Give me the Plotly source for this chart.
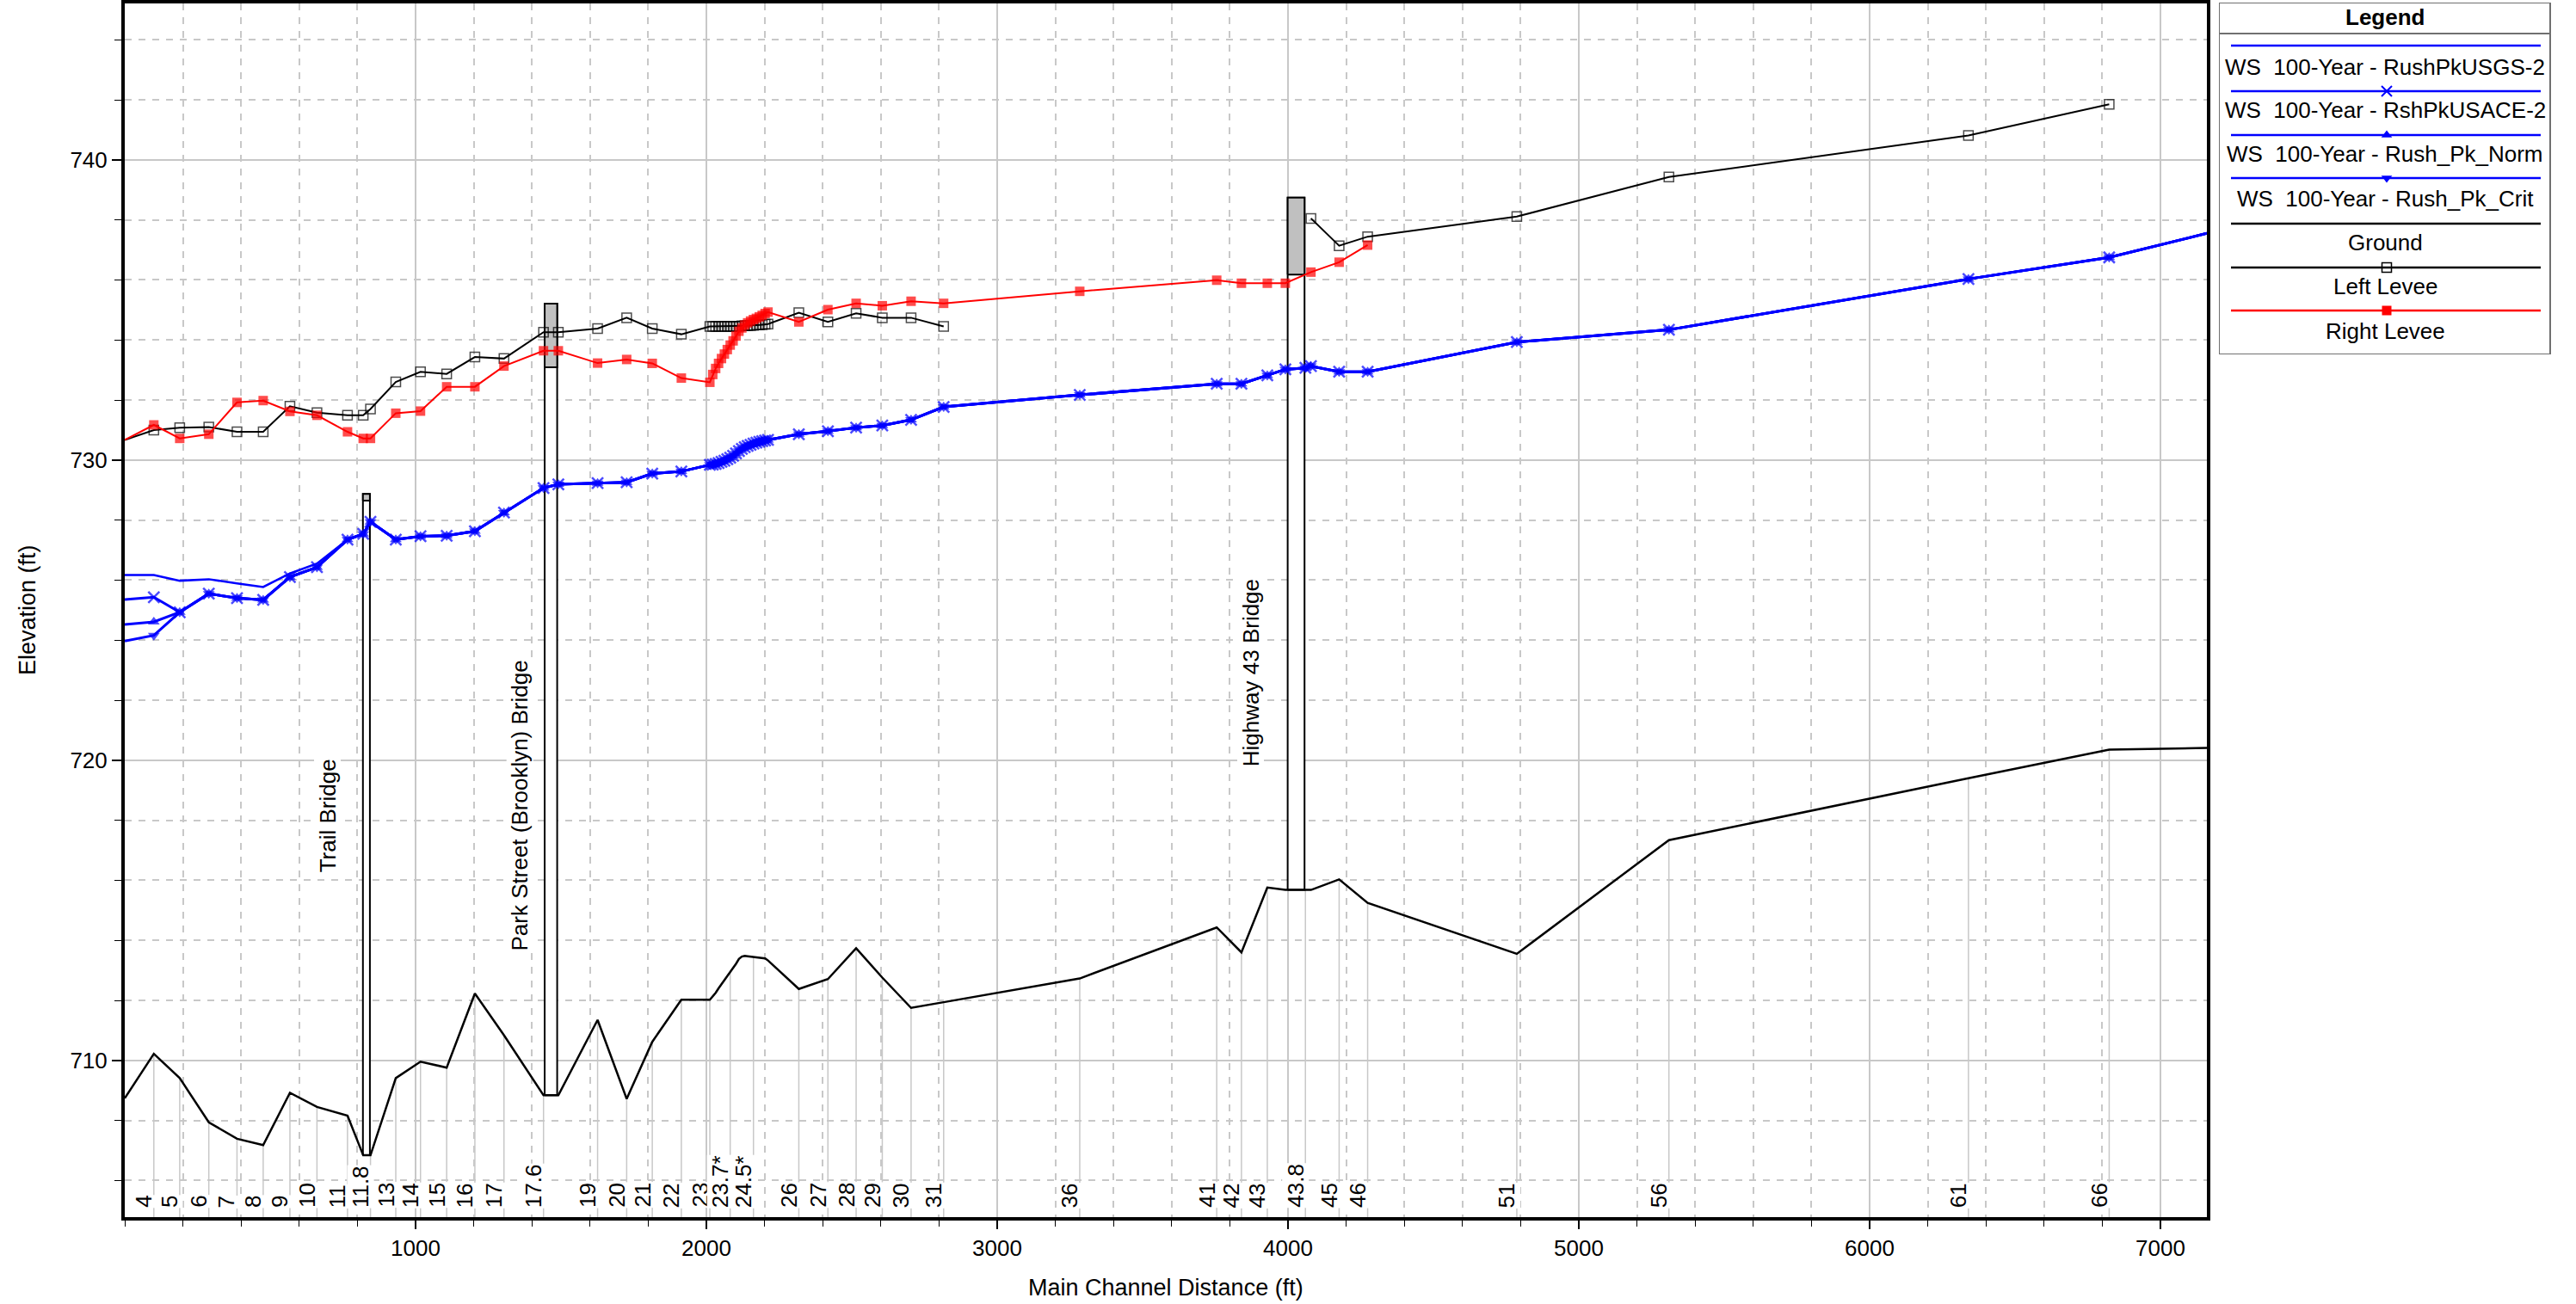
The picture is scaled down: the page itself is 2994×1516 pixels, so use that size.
import plotly.graph_objects as go

W, H = 2994, 1516
FONT = "Liberation Sans, Arial, Helvetica, sans-serif"

# ---------------- river stations (main channel distance, ft) ----------------
stations = [0, 100, 189, 289, 386, 476, 568, 661, 766, 820, 845, 932, 1017, 1107, 1204, 1304,
            1440, 1491, 1626, 1726, 1814, 1914, 2012,
            2022, 2032, 2042, 2052, 2062, 2072, 2082, 2092, 2102, 2112, 2122, 2132, 2142, 2152,
            2162, 2172, 2182, 2192, 2202,
            2212, 2318, 2418, 2515, 2605, 2704, 2816, 3284, 3755, 3840, 3929, 3991, 4060, 4079,
            4176, 4274, 4787, 5310, 6340, 6824, 7160]

# ---------------- elevations (ft) ----------------
ground = [708.74, 710.22, 709.41, 707.94, 707.39, 707.18, 708.92, 708.45, 708.16, 706.84, 706.84,
          709.41, 709.96, 709.76, 712.23, 710.84, 708.84, 708.84, 711.35, 708.72, 710.62, 712.02,
          712.02,
          712.12, 712.25, 712.40, 712.53, 712.66, 712.80, 712.94, 713.08, 713.22, 713.38, 713.46,
          713.48, 713.47, 713.46, 713.45, 713.44, 713.43, 713.42, 713.40,
          713.33, 712.38, 712.71, 713.74, 712.76, 711.75, 711.94, 712.73, 714.43, 713.60, 715.76,
          715.68, 715.68, 715.68, 716.03, 715.25, 713.55, 717.34, 719.40, 720.35, 720.41]

left_levee = [730.67, 731.00, 731.08, 731.10, 730.94, 730.94, 731.79, 731.58, 731.49, 731.49,
              731.70, 732.60, 732.94, 732.87, 733.43, 733.38, 734.26, 734.26, 734.38, 734.74,
              734.38, 734.19, 734.45,
              734.45, 734.45, 734.45, 734.45, 734.45, 734.45, 734.45, 734.45, 734.45, 734.46,
              734.47, 734.47, 734.48, 734.48, 734.49, 734.50, 734.50, 734.51, 734.52,
              734.53, 734.91, 734.60, 734.89, 734.74, 734.74, 734.45, None, None, None, None,
              None, None, 738.05, 737.14, 737.44, 738.11, 739.43, 740.81, 741.85, None]

right_levee = [730.67, 731.17, 730.72, 730.86, 731.92, 731.98, 731.62, 731.49, 730.94, 730.72,
               730.72, 731.56, 731.63, 732.44, 732.44, 733.13, 733.64, 733.64, 733.23, 733.35,
               733.22, 732.73, 732.59,
               732.85, 733.05, 733.22, 733.38, 733.53, 733.68, 733.83, 733.97, 734.13, 734.29,
               734.40, 734.50, 734.57, 734.63, 734.68, 734.72, 734.77, 734.82, 734.88,
               734.93, 734.60, 735.01, 735.22, 735.14, 735.29, 735.22, 735.62, 735.99, 735.89,
               735.89, 735.89, None, 736.26, 736.59, 737.16, None, None, None, None, None]

# water surface: the four profiles differ below XS 11 and coincide upstream of it
ws_usgs_down = [726.17, 726.17, 725.98, 726.03, 725.89, 725.77, 726.22, 726.55]
ws_usace_down = [725.35, 725.43, 724.93, 725.55, 725.40, 725.34, 726.10, 726.43]
ws_norm_down = [724.52, 724.61, 724.93, 725.55, 725.40, 725.34, 726.10, 726.43]
ws_crit_down = [723.97, 724.16, 724.93, 725.55, 725.40, 725.34, 726.10, 726.43]
ws_upstream = [727.35, 727.54, 727.94, 727.35, 727.46, 727.48, 727.63, 728.25, 729.07, 729.19,
               729.23, 729.26, 729.55, 729.62, 729.84,
               729.85, 729.87, 729.90, 729.94, 729.98, 730.03, 730.08, 730.14, 730.22, 730.30,
               730.37, 730.43, 730.47, 730.51, 730.55, 730.58, 730.61, 730.63, 730.65,
               730.67, 730.86, 730.96, 731.08, 731.15, 731.34, 731.77, 732.17, 732.54, 732.54,
               732.82, 733.02, 733.07, 733.13, 732.94, 732.94, 733.93, 734.34, 736.03, 736.75,
               737.55]

ws_usgs = ws_usgs_down + ws_upstream
ws_usace = ws_usace_down + ws_upstream
ws_norm = ws_norm_down + ws_upstream
ws_crit = ws_crit_down + ws_upstream

# ---------------- cross-section labels ----------------
xs_labels = ["4", "5", "6", "7", "8", "9", "10", "11", "11.8", "13", "14", "15", "16", "17", "17.6",
             "19", "20", "21", "22", "23", "23.7*", "24.5*", "26", "27", "28", "29", "30", "31",
             "36", "41", "42", "43", "43.8", "45", "46", "51", "56", "61", "66"]
xs_label_pos = [100, 189, 289, 386, 476, 568, 661, 766, 845, 932, 1017, 1107, 1204, 1304, 1440,
                1626, 1726, 1814, 1914, 2012, 2082, 2162, 2318, 2418, 2515, 2605, 2704, 2816,
                3284, 3755, 3840, 3929, 4060, 4176, 4274, 4787, 5310, 6340, 6824]

# ---------------- bridges ----------------
bridge_names = ["Trail Bridge", "Park Street (Brooklyn) Bridge", "Highway 43 Bridge"]
bridge_left = [819, 1444, 3999]
bridge_right = [843, 1487, 4057]
bridge_bottom = [706.84, 708.84, 715.68]
bridge_low_chord = [728.65, 733.09, 736.18]
bridge_high_chord = [728.87, 735.21, 738.74]

x_tick_vals = [1000, 2000, 3000, 4000, 5000, 6000, 7000]

# ---------------- geometry of the page ----------------
X_MIN, X_MAX = 0, 7160
Y_MIN, Y_MAX = 704.78, 745.21
PL, PR, PT, PB = 145, 2565, 4, 1415          # plot area in pixels
LG_L, LG_R, LG_T, LG_B = 2579, 2965, 3, 412  # legend box in pixels

BLUE, RED, BLACK = "#0000ff", "#ff0000", "#000000"
GRID = "#c8c8c8"

ground_at = dict(zip(stations, ground))


def edge_sizes(size):
    # no symbol on the sections that sit on the plot border
    return [0 if s in (X_MIN, X_MAX) else size for s in stations]


fig = go.Figure()

# cross-section location lines, from the axis up to the ground
xs_x, xs_y = [], []
for p in xs_label_pos:
    xs_x += [p, p, None]
    xs_y += [Y_MIN, ground_at[p], None]
fig.add_trace(go.Scatter(x=xs_x, y=xs_y, mode="lines", line=dict(color=GRID, width=1.5),
                         hoverinfo="skip"))

# bridge openings and decks
for i in range(len(bridge_names)):
    x0, x1 = bridge_left[i], bridge_right[i]
    b, lo, hi = bridge_bottom[i], bridge_low_chord[i], bridge_high_chord[i]
    fig.add_trace(go.Scatter(x=[x0, x1, x1, x0, x0], y=[b, b, hi, hi, b], mode="lines",
                             fill="toself", fillcolor="white",
                             line=dict(color=BLACK, width=2), hoverinfo="skip"))
    fig.add_trace(go.Scatter(x=[x0, x1, x1, x0, x0], y=[lo, lo, hi, hi, lo], mode="lines",
                             fill="toself", fillcolor="#c0c0c0",
                             line=dict(color=BLACK, width=2), hoverinfo="skip"))

# water surface profiles
fig.add_trace(go.Scatter(x=stations, y=ws_usgs, mode="lines", name="WS 100-Year - RushPkUSGS-2",
                         line=dict(color=BLUE, width=2.5)))
fig.add_trace(go.Scatter(x=stations, y=ws_usace, mode="lines+markers",
                         name="WS 100-Year - RshPkUSACE-2",
                         line=dict(color=BLUE, width=3),
                         marker=dict(symbol="x-thin", size=edge_sizes(13), color=BLUE,
                                     line=dict(color=BLUE, width=2.5))))
fig.add_trace(go.Scatter(x=stations, y=ws_norm, mode="lines+markers",
                         name="WS 100-Year - Rush_Pk_Norm",
                         line=dict(color=BLUE, width=3),
                         marker=dict(symbol="triangle-up", size=edge_sizes(12), color=BLUE,
                                     line=dict(width=0))))
fig.add_trace(go.Scatter(x=stations, y=ws_crit, mode="lines+markers",
                         name="WS 100-Year - Rush_Pk_Crit",
                         line=dict(color=BLUE, width=3),
                         marker=dict(symbol="triangle-down", size=edge_sizes(12), color=BLUE,
                                     line=dict(width=0))))

# ground and levees
fig.add_trace(go.Scatter(x=stations, y=ground, mode="lines", name="Ground",
                         line=dict(color=BLACK, width=2.5)))
fig.add_trace(go.Scatter(x=stations, y=left_levee, mode="lines+markers", name="Left Levee",
                         connectgaps=False, line=dict(color=BLACK, width=2),
                         marker=dict(symbol="square-open", size=edge_sizes(11), color=BLACK,
                                     line=dict(color=BLACK, width=1.5))))
fig.add_trace(go.Scatter(x=stations, y=right_levee, mode="lines+markers", name="Right Levee",
                         connectgaps=True, line=dict(color=RED, width=2),
                         marker=dict(symbol="square", size=edge_sizes(11), color=RED,
                                     line=dict(width=0))))

# ---------------- legend drawn in its own pixel-scaled frame ----------------
legend_names = ["WS  100-Year - RushPkUSGS-2", "WS  100-Year - RshPkUSACE-2",
                "WS  100-Year - Rush_Pk_Norm", "WS  100-Year - Rush_Pk_Crit",
                "Ground", "Left Levee", "Right Levee"]
legend_colors = [BLUE, BLUE, BLUE, BLUE, BLACK, BLACK, RED]
legend_symbols = [None, "x-thin", "triangle-up", "triangle-down", None, "square-open", "square"]
legend_line_y = [53, 106, 157, 207, 260, 311, 361]
legend_text_y = [78, 128, 179, 231, 282, 333, 385]
LG_MID = 2774

for name, col, sym, ly in zip(legend_names, legend_colors, legend_symbols, legend_line_y):
    fig.add_trace(go.Scatter(x=[2593, 2953], y=[ly, ly], mode="lines", xaxis="x2", yaxis="y2",
                             line=dict(color=col, width=2.5), hoverinfo="skip"))
    if sym:
        fig.add_trace(go.Scatter(x=[LG_MID], y=[ly], mode="markers", xaxis="x2", yaxis="y2",
                                 marker=dict(symbol=sym, size=12 if sym == "x-thin" else 11,
                                             color=col,
                                             line=dict(color=col,
                                                       width=2 if sym == "x-thin" else
                                                       (1.5 if sym == "square-open" else 0))),
                                 hoverinfo="skip"))

shapes = [
    dict(type="rect", xref="x2", yref="y2", x0=LG_L, x1=LG_R - 1, y0=LG_T, y1=LG_B,
         line=dict(color="#707070", width=2), fillcolor="rgba(0,0,0,0)"),
    dict(type="line", xref="x2", yref="y2", x0=LG_L, x1=LG_R, y0=39, y1=39,
         line=dict(color="#707070", width=2)),
]

annotations = [
    dict(text="<b>Legend</b>", xref="x2", yref="y2", x=LG_MID - 2, y=20, showarrow=False,
         font=dict(family=FONT, size=26, color=BLACK), xanchor="center", yanchor="middle"),
]
for name, ty in zip(legend_names, legend_text_y):
    annotations.append(dict(text=name, xref="x2", yref="y2", x=LG_MID - 2, y=ty,
                            showarrow=False, xanchor="center", yanchor="middle",
                            font=dict(family=FONT, size=26, color=BLACK)))

# cross-section labels along the bottom
for lab, p in zip(xs_labels, xs_label_pos):
    annotations.append(dict(text=lab, x=p, xref="x", y=1 - 1405 / H, yref="paper",
                            textangle=-90, xanchor="center", yanchor="bottom", xshift=-12,
                            showarrow=False, bgcolor="white", borderpad=0,
                            font=dict(family=FONT, size=26, color=BLACK)))

# bridge names
bridge_label_x = [698, 1359, 3871]
bridge_label_base = [716.23, 713.63, 719.77]
for name, bx, by in zip(bridge_names, bridge_label_x, bridge_label_base):
    annotations.append(dict(text=name, x=bx, y=by, xref="x", yref="y", textangle=-90,
                            xanchor="center", yanchor="bottom", showarrow=False,
                            bgcolor="white", borderpad=0,
                            font=dict(family=FONT, size=26, color=BLACK)))

# axis titles
annotations.append(dict(text="Main Channel Distance (ft)", xref="paper", yref="paper",
                        x=(PL + PR) / 2 / W, y=1 - 1497 / H, showarrow=False,
                        xanchor="center", yanchor="middle",
                        font=dict(family=FONT, size=27, color=BLACK)))
annotations.append(dict(text="Elevation (ft)", xref="paper", yref="paper",
                        x=32 / W, y=1 - 709 / H, showarrow=False, textangle=-90,
                        xanchor="center", yanchor="middle",
                        font=dict(family=FONT, size=27, color=BLACK)))

tick_font = dict(family=FONT, size=26, color=BLACK)

fig.update_layout(
    width=W, height=H, autosize=False,
    margin=dict(l=0, r=0, t=0, b=0, pad=0),
    paper_bgcolor="white", plot_bgcolor="white",
    showlegend=False,
    xaxis=dict(domain=[PL / W, PR / W], range=[X_MIN, X_MAX], anchor="y",
               tickmode="array", tickvals=x_tick_vals, ticks="outside", ticklen=10,
               tickwidth=1.5, tickcolor=BLACK, tickfont=tick_font,
               showgrid=True, gridcolor=GRID, gridwidth=1.5, zeroline=False,
               showline=True, linewidth=4, linecolor=BLACK, mirror=True,
               minor=dict(tickmode="linear", tick0=0, dtick=200, ticks="outside", ticklen=7,
                          tickwidth=1.2, tickcolor=BLACK, showgrid=True, gridcolor=GRID,
                          gridwidth=1.5, griddash="8px,8px"),
               fixedrange=True),
    yaxis=dict(domain=[1 - PB / H, 1 - PT / H], range=[Y_MIN, Y_MAX], anchor="x",
               tickmode="linear", tick0=0, dtick=10, ticks="outside", ticklen=11,
               tickwidth=1.5, tickcolor=BLACK, tickfont=tick_font,
               showgrid=True, gridcolor=GRID, gridwidth=1.5, zeroline=False,
               showline=True, linewidth=4, linecolor=BLACK, mirror=True,
               minor=dict(tickmode="linear", tick0=0, dtick=2, ticks="outside", ticklen=8,
                          tickwidth=1.2, tickcolor=BLACK, showgrid=True, gridcolor=GRID,
                          gridwidth=1.5, griddash="8px,8px"),
               fixedrange=True),
    xaxis2=dict(domain=[LG_L / W, LG_R / W], range=[LG_L, LG_R], anchor="y2",
                visible=False, fixedrange=True),
    yaxis2=dict(domain=[1 - LG_B / H, 1 - LG_T / H], range=[LG_B, LG_T], anchor="x2",
                visible=False, fixedrange=True),
    shapes=shapes,
    annotations=annotations,
)

fig.write_html("out.html")
